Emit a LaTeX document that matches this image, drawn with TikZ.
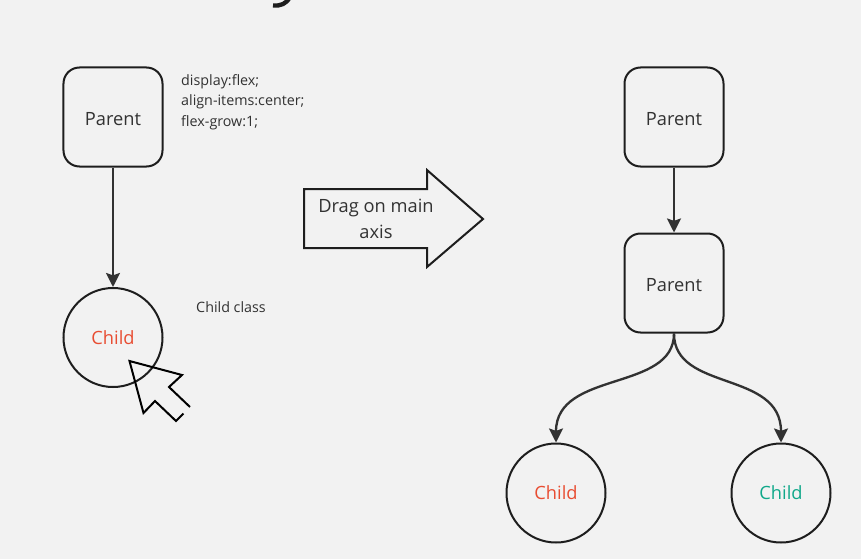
\documentclass[tikz,border=0pt]{standalone}
\usepackage{fontspec}
\setmainfont{Open Sans}
\usetikzlibrary{arrows.meta,positioning}
\definecolor{pagecolor}{RGB}{242,242,242}
\definecolor{linecolor}{RGB}{30,30,30}
\definecolor{arrcolor}{RGB}{50,50,50}
\definecolor{childred}{RGB}{232,77,50}
\definecolor{childteal}{RGB}{16,168,138}

\begin{document}
\begin{tikzpicture}[
  x=0.03cm, y=-0.03cm,
  parent/.style={draw=linecolor, line width=0.06cm, rounded corners=0.48cm,
                 minimum width=2.97cm, minimum height=2.97cm, text=arrcolor,
                 text height=14pt, text depth=0pt,
                 font=\fontsize{15.6}{19}\selectfont},
  child/.style={draw=linecolor, line width=0.06cm, circle, inner sep=0pt,
                minimum size=2.97cm, font=\fontsize{15.6}{19}\selectfont},
  note/.style={font=\fontsize{12.2}{17.5}\selectfont, text=arrcolor, align=left},
  arr/.style={-{Stealth[length=0.42cm,width=0.42cm,inset=0.07cm]}, line width=0.07cm, draw=arrcolor}
]
\useasboundingbox[fill=pagecolor] (0,0) rectangle (861,559);

% left side
\node[parent] (p1) at (113,117) {Parent};
\node[child, text=childred] (c1) at (113,337.5) {Child};
\node[note, anchor=north west, inner sep=0pt] (n1) at (181,74) {display:flex;\\align-items:center;\\flex-grow:1;};
\node[note, anchor=west, inner sep=0pt] (n2) at (196,307) {Child class};
\draw[arr] (p1) -- (c1);

% cursor
\draw[line width=0.06cm, draw=black, line join=miter]
  (190,407) -- (169,387) -- (182,375) -- (129.5,361) -- (143.5,413) -- (155,401) -- (176,421) -- (183.5,413.5);

% big arrow
\draw[line width=0.06cm, draw=linecolor, line join=miter]
  (304,189) -- (427,189) -- (427,170) -- (483,219) -- (427,267) -- (427,248) -- (304,248) -- cycle;
\node[font=\fontsize{15.6}{22}\selectfont, text=arrcolor, align=center] (lbl) at (376,219) {Drag on main\\axis};

% right side
\node[parent] (p2) at (674,117) {Parent};
\node[parent] (p3) at (674,283) {Parent};
\node[child, text=childred] (c2) at (556,493) {Child};
\node[child, text=childteal] (c3) at (781,493) {Child};
\draw[arr] (p2) -- (p3);
\draw[arr] (p3.south) .. controls (674,392) and (556,370) .. (c2.north);
\draw[arr] (p3.south) .. controls (674,392) and (781,370) .. (c3.north);

% cut off title
\clip (0,0) rectangle (861,559);
\draw[line width=0.13cm, draw=linecolor] (273,5.5) .. controls (281,6) and (286,4) .. (290,-3);
\end{tikzpicture}
\end{document}
